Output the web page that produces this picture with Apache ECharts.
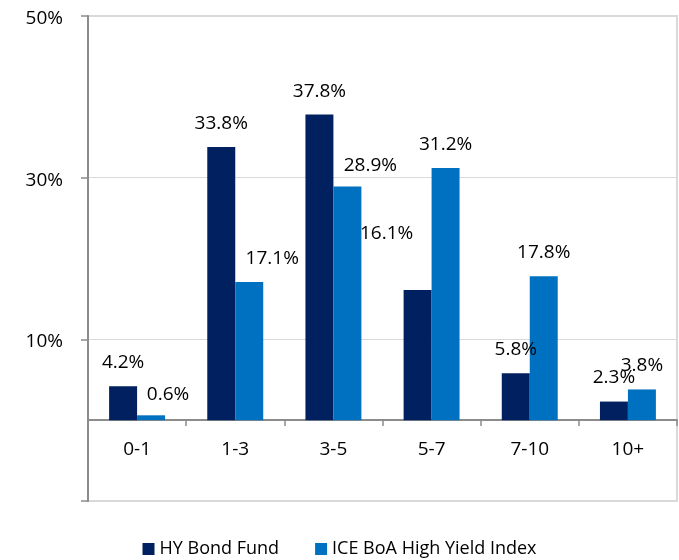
<!DOCTYPE html>
<html>
<head>
<meta charset="utf-8">
<script src="https://cdn.jsdelivr.net/npm/echarts@6/dist/echarts.min.js"></script>
<style>
  html, body { margin: 0; padding: 0; background: #fff; }
  #main { width: 679px; height: 560px; }
</style>
</head>
<body>
<div id="main"></div>
<script>
const categories = ['0-1', '1-3', '3-5', '5-7', '7-10', '10+']
const fundName = 'HY Bond Fund'
const indexName = 'ICE BoA High Yield Index'
const fundValues = [4.2, 33.8, 37.8, 16.1, 5.8, 2.3]
const indexValues = [0.6, 17.1, 28.9, 31.2, 17.8, 3.8]

// label nudges (Excel placed a few by hand)
const fundLabelOffsets = [null, null, null, [-31, -33], null, null]
const indexLabelOffsets = [[17, 3], [23, 0], [23, 3], null, null, null]

const textFont = 'Open Sans'
const textSize = 19

function withOffsets(values, offsets) {
  return values.map((v, i) => {
    if (!offsets[i]) return v
    return {value: v, label: {offset: offsets[i]}}
  })
}

const chart = echarts.init(document.getElementById('main'), null, {renderer: 'canvas'})

chart.setOption({
  animation: false,
  textStyle: {fontFamily: textFont},
  grid: {
    left: 88,
    right: 2,
    top: 16,
    bottom: 59,
    show: true,
    borderColor: '#d9d9d9',
    borderWidth: 2
  },
  legend: {
    top: 535,
    left: 'center',
    itemWidth: 12,
    itemHeight: 12,
    itemGap: 36,
    icon: 'rect',
    textStyle: {fontSize: 18, color: '#000', fontFamily: textFont},
    data: [fundName, indexName]
  },
  xAxis: {
    type: 'category',
    data: categories,
    offset: -81, // sit the axis on the 0% line
    axisLine: {onZero: false, lineStyle: {color: '#8c8c8c', width: 2}},
    axisTick: {show: true, length: 6, lineStyle: {color: '#8c8c8c', width: 1.5}},
    axisLabel: {fontSize: textSize, color: '#000', margin: 20, fontFamily: textFont}
  },
  yAxis: {
    type: 'value',
    min: -10,
    max: 50,
    interval: 20,
    axisLine: {show: true, lineStyle: {color: '#8c8c8c', width: 2}},
    axisTick: {show: true, length: 7, lineStyle: {color: '#8c8c8c', width: 1.5}},
    axisLabel: {
      color: '#000',
      margin: 25,
      verticalAlign: 'middle',
      formatter: v => v < 0 ? '' : '{t|' + v + '%}',
      rich: {
        t: {fontSize: textSize, fontFamily: textFont, color: '#000', padding: [5, 0, 0, 0]}
      }
    },
    splitLine: {show: true, lineStyle: {color: '#d9d9d9', width: 1}}
  },
  series: [
    {
      name: fundName,
      type: 'bar',
      data: withOffsets(fundValues, fundLabelOffsets),
      barGap: '0%',
      barCategoryGap: '43%',
      itemStyle: {color: '#002060'},
      label: {
        show: true,
        position: 'top',
        distance: 14,
        fontSize: textSize,
        color: '#000',
        fontFamily: textFont,
        formatter: p => p.value.toFixed(1) + '%'
      }
    },
    {
      name: indexName,
      type: 'bar',
      data: withOffsets(indexValues, indexLabelOffsets),
      itemStyle: {color: '#0070c0'},
      label: {
        show: true,
        position: 'top',
        distance: 14,
        fontSize: textSize,
        color: '#000',
        fontFamily: textFont,
        formatter: p => p.value.toFixed(1) + '%'
      }
    }
  ]
})
</script>
</body>
</html>
